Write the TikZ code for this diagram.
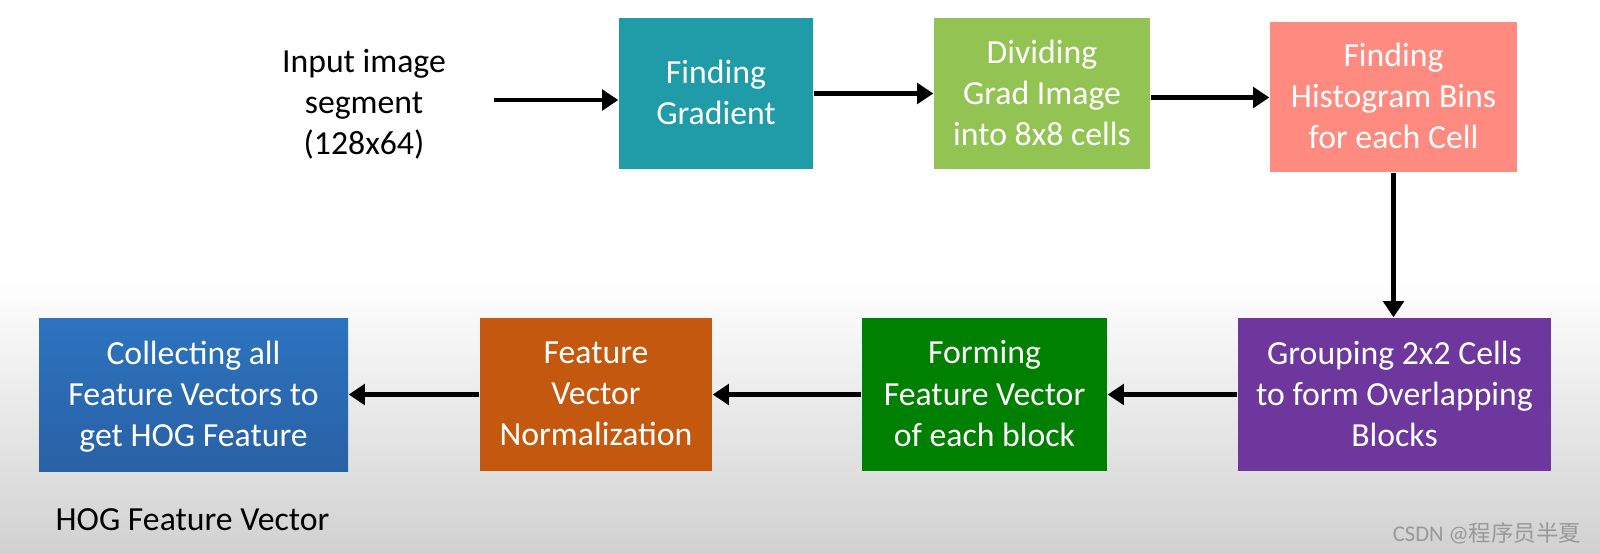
\documentclass[tikz,border=0pt]{standalone}
\usepackage{fontspec}
\setmainfont{Carlito}
\newfontfamily\cjk{Noto Sans CJK SC}
\usetikzlibrary{arrows.meta}

\definecolor{gradcol}{HTML}{209CA8}
\definecolor{divcol}{HTML}{92C353}
\definecolor{histcol}{HTML}{FF8A80}
\definecolor{groupcol}{HTML}{6E379D}
\definecolor{formcol}{HTML}{008000}
\definecolor{normcol}{HTML}{C5580F}
\definecolor{collcolA}{HTML}{2C73BF}
\definecolor{collcolB}{HTML}{2961A5}

\begin{document}
\begin{tikzpicture}[font=\fontsize{9.6}{11.7}\selectfont]
\tikzstyle{procbox}=[inner sep=0pt,minimum height=1.51cm,align=center,text=white,text depth=0.02cm]
\tikzstyle{flow}=[line width=1.2pt,-{Triangle[length=4.6pt,width=5.8pt]}]

% background
\fill[white] (0,0) rectangle (16,5.53);
\shade[top color=white,bottom color=black!18] (0,0) rectangle (16,2.75);
\useasboundingbox (0,0) rectangle (16,5.53);

% top row
\node [align=center] (in) at (3.64,4.49) {Input image\\segment\\(128x64)};
\coordinate (start) at (4.94,4.53);
\node [procbox,fill=gradcol,minimum width=1.94cm] (grad) at (7.16,4.595) {Finding\\Gradient};
\node [procbox,fill=divcol,minimum width=2.16cm] (div) at (10.42,4.595) {Dividing\\Grad Image\\into 8x8 cells};
\node [procbox,fill=histcol,minimum width=2.47cm,minimum height=1.50cm] (hist) at (13.935,4.56) {Finding\\Histogram Bins\\for each Cell};

% bottom row
\node [procbox,fill=groupcol,minimum width=3.13cm,minimum height=1.53cm] (group) at (13.945,1.585) {Grouping 2x2 Cells\\to form Overlapping\\Blocks};
\node [procbox,fill=formcol,minimum width=2.45cm,minimum height=1.53cm] (form) at (9.845,1.585) {Forming\\Feature Vector\\of each block};
\node [procbox,fill=normcol,minimum width=2.32cm,minimum height=1.53cm] (norm) at (5.96,1.585) {Feature\\Vector\\Normalization};
\node [procbox,top color=collcolA,bottom color=collcolB,minimum width=3.09cm,minimum height=1.53cm] (coll) at (1.935,1.585) {Collecting all\\Feature Vectors to\\get HOG Feature};

\node [anchor=west,inner sep=0pt] (hog) at (0.55,0.33) {HOG Feature Vector};
\node [anchor=east,inner sep=0pt,text=black!40,font=\fontsize{6.4}{7}\selectfont] (mark) at (15.82,0.2) {CSDN @{\cjk 程序员半夏}};

% connectors
\draw[flow] (start) -- (start -| grad.west);
\draw[flow] (grad.east) -- (grad.east -| div.west);
\draw[flow] ([yshift=-0.04cm]div.east) -- ([yshift=-0.04cm]div.east -| hist.west);
\draw[flow] (hist.south) -- (hist.south |- group.north);
\draw[flow] (group) -- (form);
\draw[flow] (form) -- (norm);
\draw[flow] (norm) -- (coll);
\end{tikzpicture}
\end{document}
